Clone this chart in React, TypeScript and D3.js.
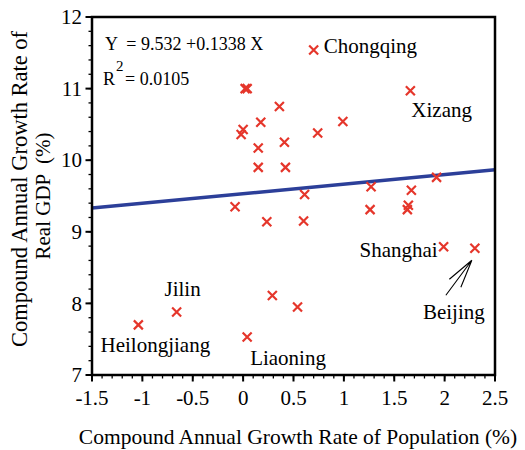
import React from 'react';
import { scaleLinear, range, line } from 'd3';

const width = 525;
const height = 450;
const margin = { top: 17, right: 30, bottom: 75, left: 92 };

// growth rates (%), one per province
const popGrowth = [
  0.02, 0.04, 0.36, 0.175, 0.0, -0.02, 0.41, 0.15, 0.15, 0.42,
  0.7, 1.66, 0.99, 0.74, 1.92, 1.27, 1.67, 0.61, 1.26, 1.64,
  1.63, 0.6, 1.99, 2.3, 0.54, -0.08, 0.235, 0.29, -0.66, -1.04, 0.04,
];
const gdpGrowth = [
  11.0, 11.0, 10.75, 10.53, 10.43, 10.36, 10.25, 10.17, 9.9, 9.9,
  11.54, 10.97, 10.54, 10.38, 9.76, 9.63, 9.58, 9.52, 9.31, 9.37,
  9.31, 9.15, 8.79, 8.77, 7.95, 9.35, 9.14, 8.11, 7.88, 7.7, 7.53,
];

// named provinces: index into the arrays above
const labelNames = ['Chongqing', 'Xizang', 'Shanghai', 'Beijing', 'Jilin', 'Heilongjiang', 'Liaoning'];
const labelIndex = [10, 11, 22, 23, 28, 29, 30];
const labelOffsets = [
  { dx: 10, dy: 3, anchor: 'start' },
  { dx: 1, dy: 26, anchor: 'start' },
  { dx: -6, dy: 10, anchor: 'end' },
  { dx: -21, dy: 71, anchor: 'middle' },
  { dx: 6, dy: -16, anchor: 'middle' },
  { dx: 17, dy: 27, anchor: 'middle' },
  { dx: 3, dy: 28, anchor: 'start' },
];

const intercept = 9.532;
const slope = 0.1338;
const rSquared = 0.0105;

const xTicks = [-1.5, -1, -0.5, 0, 0.5, 1, 1.5, 2, 2.5];
const yTicks = [7, 8, 9, 10, 11, 12];

const font = "'Liberation Serif', 'Times New Roman', serif";
const red = '#e5362b';
const blue = '#2c3f99';

export default function App() {
  const x = scaleLinear().domain([-1.5, 2.5]).range([margin.left, width - margin.right]);
  const y = scaleLinear().domain([7, 12]).range([height - margin.bottom, margin.top]);
  const x0 = x.range()[0];
  const x1 = x.range()[1];
  const y0 = y.range()[0];
  const y1 = y.range()[1];

  const xMinor = range(-15, 26).map((d) => d / 10);
  const yMinor = range(35, 61).map((d) => d / 5);

  const fitLine = line<number>()
    .x((d) => x(d))
    .y((d) => y(intercept + slope * d))([-1.5, 2.5]);

  const s = 4.5; // half size of the cross markers

  // Beijing arrow, in px relative to its point
  const bx = x(popGrowth[23]);
  const by = y(gdpGrowth[23]);
  const tip = [bx - 3, by + 12];
  const arrowPath =
    `M${tip[0]},${tip[1]}L${bx - 29},${by + 47}` +
    `M${tip[0]},${tip[1]}L${bx - 25.5},${by + 31}` +
    `M${tip[0]},${tip[1]}L${bx - 14},${by + 39}`;

  return (
    <svg
      width={width}
      height={height}
      style={{ position: 'absolute', left: 0, top: 0, background: '#fff' }}
      fontFamily={font}
    >
      {/* minor ticks */}
      {xMinor.map((d) => (
        <line key={'xm' + d} x1={x(d)} x2={x(d)} y1={y0} y2={y0 + 3.5} stroke="#000" strokeWidth={1.3} />
      ))}
      {yMinor.map((d) => (
        <line key={'ym' + d} x1={x0 - 3.5} x2={x0} y1={y(d)} y2={y(d)} stroke="#000" strokeWidth={1.3} />
      ))}
      {/* major ticks + labels */}
      {xTicks.map((d) => (
        <g key={'x' + d}>
          <line x1={x(d)} x2={x(d)} y1={y0} y2={y0 + 6.5} stroke="#000" strokeWidth={2} />
          <text x={x(d)} y={405} fontSize={21} textAnchor="middle">
            {d}
          </text>
        </g>
      ))}
      {yTicks.map((d) => (
        <g key={'y' + d}>
          <line x1={x0 - 6.5} x2={x0} y1={y(d)} y2={y(d)} stroke="#000" strokeWidth={2} />
          <text x={82} y={y(d)} dy="0.34em" fontSize={21} textAnchor="end">
            {d}
          </text>
        </g>
      ))}

      {/* fit line */}
      <path d={fitLine ?? ''} stroke={blue} strokeWidth={3.5} fill="none" />

      {/* points */}
      {popGrowth.map((px, i) => {
        const cx = x(px);
        const cy = y(gdpGrowth[i]);
        return (
          <path
            key={i}
            d={`M${cx - s},${cy - s}L${cx + s},${cy + s}M${cx - s},${cy + s}L${cx + s},${cy - s}`}
            stroke={red}
            strokeWidth={2.2}
          />
        );
      })}

      {/* province labels */}
      {labelNames.map((name, k) => {
        const i = labelIndex[k];
        const o = labelOffsets[k];
        return (
          <text key={name} x={x(popGrowth[i]) + o.dx} y={y(gdpGrowth[i]) + o.dy} fontSize={21} textAnchor={o.anchor as any}>
            {name}
          </text>
        );
      })}
      <path d={arrowPath} stroke="#000" strokeWidth={1.1} fill="none" />

      {/* equation */}
      <text x={105} y={50} fontSize={18} xmlSpace="preserve">
        {`Y  = ${intercept} +${slope} X`}
      </text>
      <text x={103} y={85} fontSize={18}>R</text>
      <text x={116} y={71} fontSize={15}>2</text>
      <text x={125} y={85} fontSize={18}>{`= ${rSquared}`}</text>

      {/* frame */}
      <rect x={x0} y={y1} width={x1 - x0} height={y0 - y1} fill="none" stroke="#000" strokeWidth={2.5} />

      {/* axis titles */}
      <text x={298} y={444} fontSize={21.5} textAnchor="middle">
        Compound Annual Growth Rate of Population (%)
      </text>
      <text transform="translate(27,189) rotate(-90)" fontSize={22.5} textAnchor="middle">
        Compound Annual Growth Rate of
      </text>
      <text transform="translate(50,196) rotate(-90)" fontSize={21} textAnchor="middle" xmlSpace="preserve">
        {'Real GDP  (%)'}
      </text>
    </svg>
  );
}
